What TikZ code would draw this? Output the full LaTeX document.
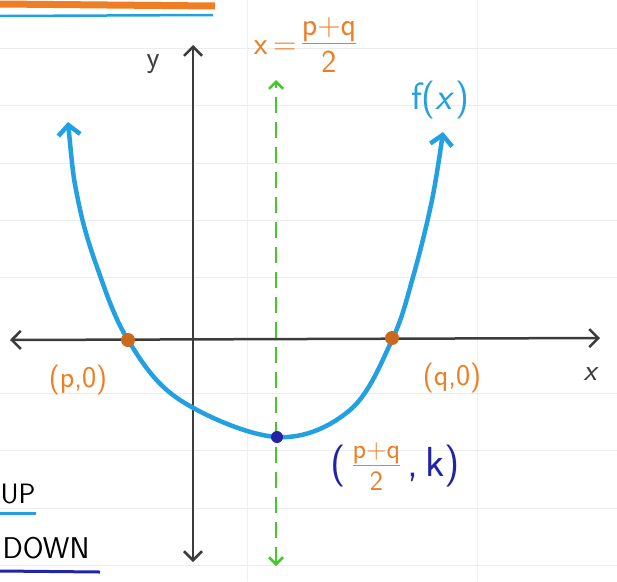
\documentclass[tikz,border=0pt]{standalone}
\usepackage[dvipsnames]{xcolor}
\usetikzlibrary{arrows.meta}
\definecolor{penorange}{RGB}{238,125,35}
\definecolor{penblue}{RGB}{35,160,225}
\definecolor{pengreen}{RGB}{70,200,45}
\definecolor{pennavy}{RGB}{35,35,165}
\definecolor{pengray}{RGB}{60,60,60}
\newcommand{\penfrac}[2]{\begingroup\renewcommand{\arraystretch}{0.8}\setlength{\tabcolsep}{1pt}%
  \begin{tabular}{@{}c@{}}#1\\[-1pt]\hline\rule{0pt}{0.9em}#2\end{tabular}\endgroup}
\tikzset{
  axis/.style={pengray,line width=2.5pt,{Straight Barb[length=9pt,width=18pt]}-{Straight Barb[length=9pt,width=18pt]}},
  curve/.style={penblue,line width=4.5pt,{Straight Barb[length=10pt,width=22pt]}-{Straight Barb[length=10pt,width=22pt]}},
  symline/.style={pengreen,line width=2.5pt,dash pattern=on 16pt off 9pt,{Straight Barb[length=7pt,width=14pt]}-{Straight Barb[length=7pt,width=14pt]}},
  lbl/.style={font=\fontsize{30}{34}\selectfont\sffamily,inner sep=0pt}
}

\begin{document}
\begin{tikzpicture}[x=1pt,y=-1pt]
  \useasboundingbox (0,0) rectangle (617,581);
  % faint grid paper
  \foreach \g in {48,105,163,220,277,393,450,508,565}
    \draw[gray!15,line width=0.8pt] (0,\g) -- (617,\g);
  \foreach \g in {247,477}
    \draw[gray!12,line width=0.8pt] (\g,0) -- (\g,581);
  % underlines left over from above
  \draw[penorange,line width=7pt] (0,4) -- (215,6);
  \draw[penblue,line width=2.5pt] (0,16) -- (213,15);
  % axes
  \coordinate (xl) at (10,340);
  \coordinate (xr) at (600,338);
  \coordinate (yt) at (193,45);
  \coordinate (yb) at (193,562);
  \draw[axis] (xl) -- (xr);
  \draw[axis] (yb) -- (yt);
  \node[lbl,pengray] (ylab) at (153,64) {y};
  \node[lbl,pengray] (xlab) at (590,374) {\itshape x};
  % axis of symmetry
  \coordinate (st) at (276,80);
  \coordinate (sb) at (276,566);
  \draw[symline] (sb) -- (st);
  \node[lbl,penorange,font=\fontsize{32}{36}\selectfont\sffamily] (symlab) at (305,48)
    {x\,=\,\penfrac{p+q}{2}};
  % parabola
  \draw[curve] plot[smooth,tension=0.6] coordinates
    {(68,122) (78,200) (97,267) (128,340) (180,400) (277,437)
     (350,410) (392,340) (413,277) (432,200) (443,132)};
  \node[lbl,penblue,font=\fontsize{38}{42}\selectfont\sffamily] (flab) at (440,100) {f(\textit{x})};
  % roots and vertex
  \fill[penorange!85!black] (128,340) circle (7pt) node (proot) {};
  \fill[penorange!85!black] (392,338) circle (7pt) node (qroot) {};
  \fill[pennavy] (277,437) circle (6pt) node (vtx) {};
  \node[lbl,penorange] (plab) at (78,380) {(p,0)};
  \node[lbl,penorange] (qlab) at (452,378) {(q,0)};
  \node[lbl,pennavy,font=\fontsize{42}{46}\selectfont\sffamily] (vlab) at (395,470)
    {(\,{\color{penorange}\fontsize{28}{30}\selectfont\penfrac{p+q}{2}}\,,\,k)};
  % up / down notes
  \node[lbl,black,font=\fontsize{28}{32}\selectfont\sffamily] (up) at (18,494) {UP};
  \draw[penblue,line width=3pt] (0,513) -- (36,513);
  \node[lbl,black,font=\fontsize{30}{34}\selectfont\sffamily] (down) at (46,548) {DOWN};
  \draw[pennavy,line width=3pt] (0,571) -- (100,572);
\end{tikzpicture}
\end{document}
